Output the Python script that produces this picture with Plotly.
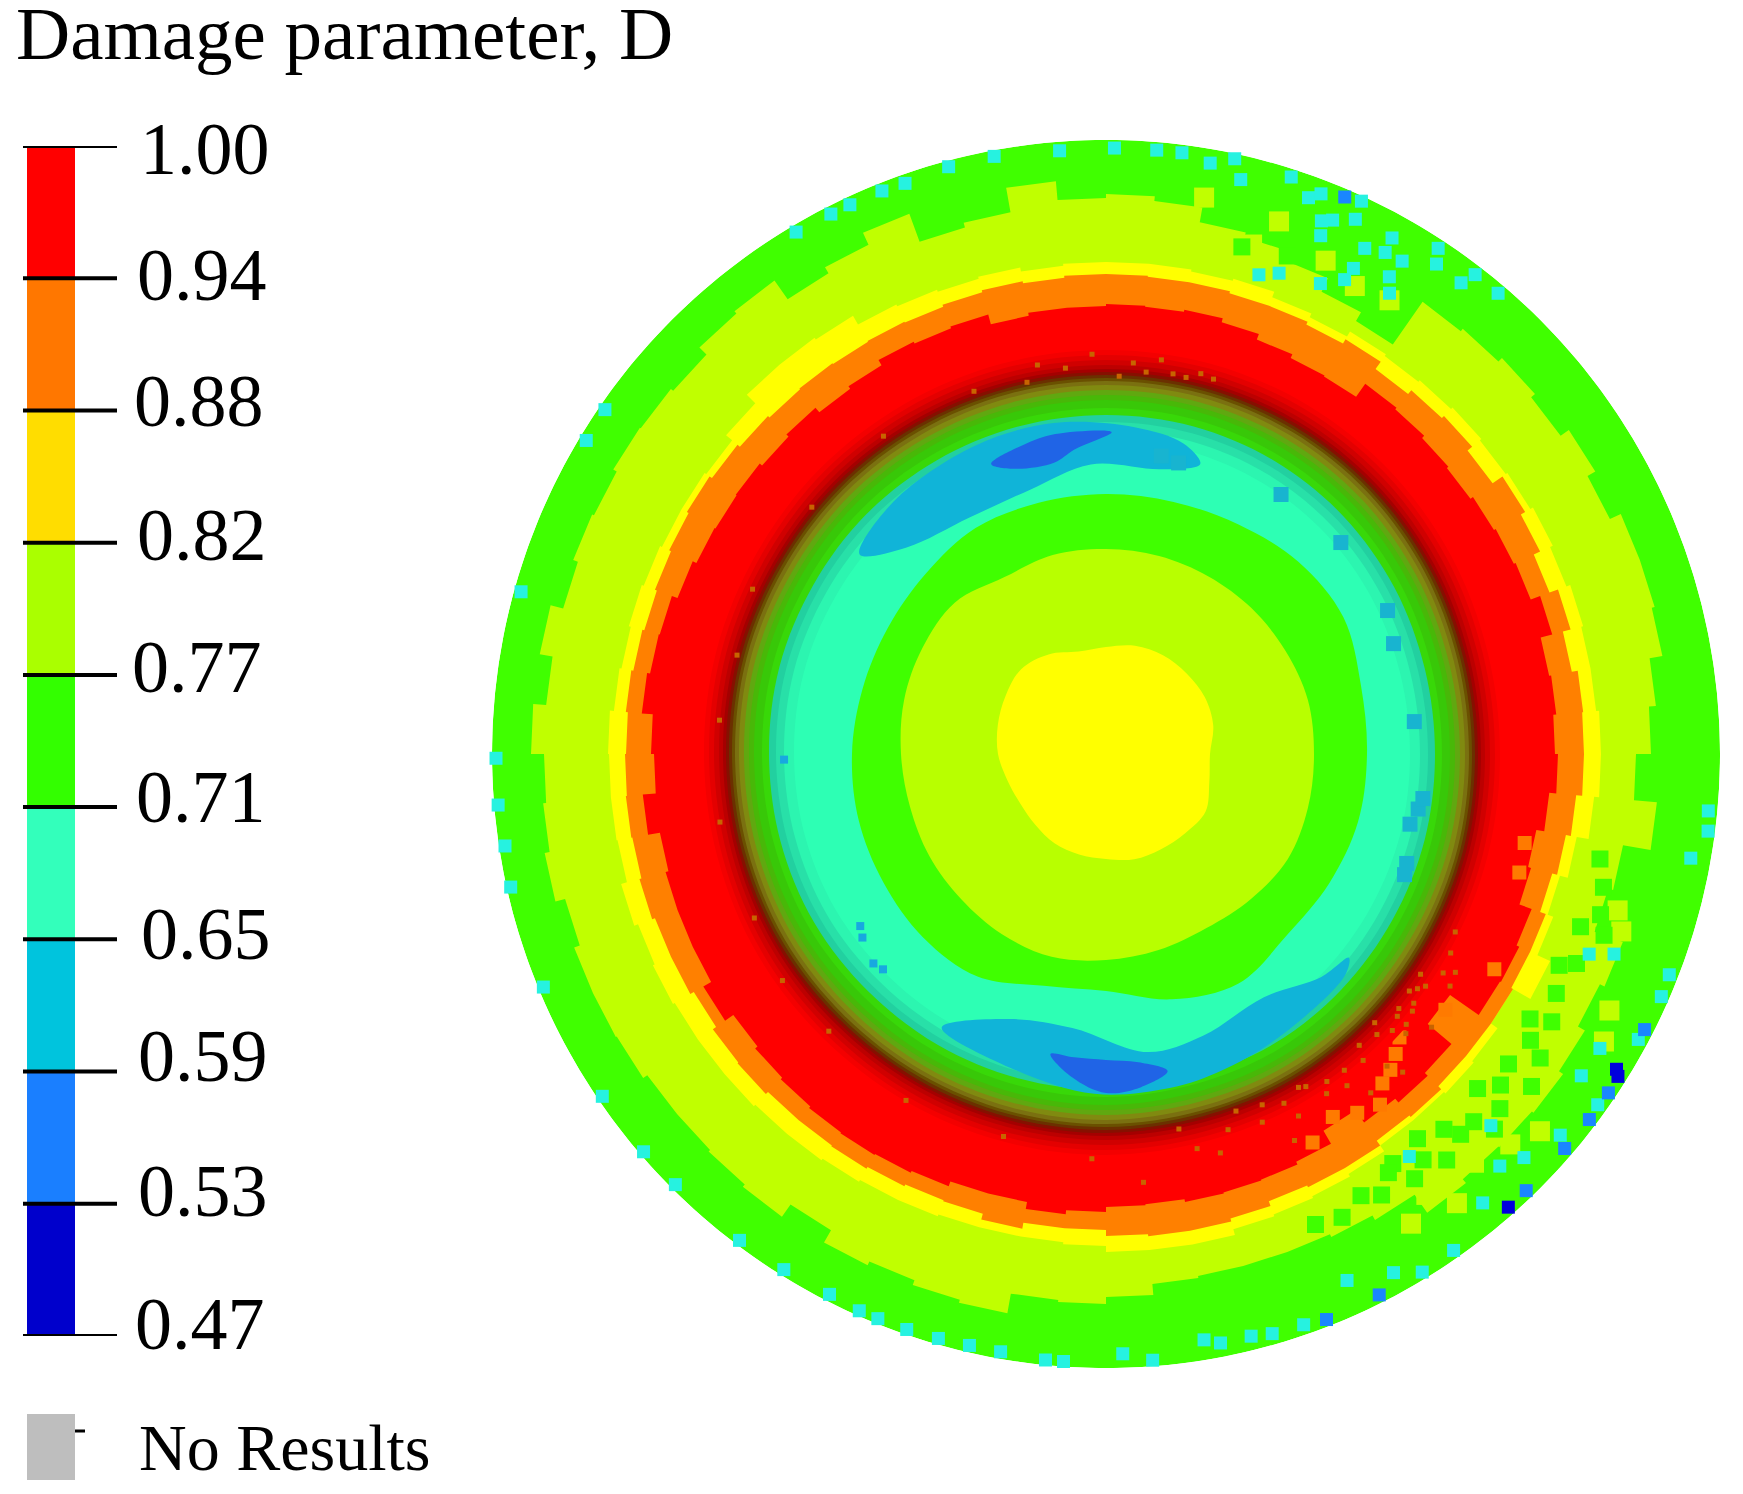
import plotly.graph_objects as go

W, H = 1743, 1494

# ---------- legend ----------
LEVELS = ["0.47", "0.53", "0.59", "0.65", "0.71", "0.77", "0.82", "0.88", "0.94", "1.00"]
LEVEL_COLORS = ["#0000cc", "#1a7fff", "#00c4dd", "#33ffbb", "#33ff00",
                "#aaff00", "#ffdd00", "#ff7700", "#ff0000"]
LABEL_LEFT = [134, 137, 137, 140, 135, 131, 136, 133, 136, 139]
LABEL_MID = [1324, 1191, 1056, 934, 797, 667, 535, 401, 275, 149]

# ---------- disc: band boundary radii, read every 5 degrees, counter-clockwise from east ----------
DISC_RADIUS = 614
YG_OUTER = [
    545, 552, 565, 568, 568, 556, 565, 555, 560, 555, 552, 500,
    510, 525, 535, 540, 555, 560, 556, 575, 550, 545, 575, 562,
    555, 578, 575, 565, 568, 569, 565, 567, 562, 575, 562, 575,
    562, 565, 570, 560, 566, 566, 565, 560, 560, 562, 565, 550,
    564, 560, 565, 568, 548, 550, 543, 532, 530, 530, 530, 533,
    538, 560, 555, 556, 558, 553, 545, 550, 520, 525, 553, 530]
YELLOW_OUTER = [
    495, 492, 492, 494, 490, 493, 490, 488, 490, 488, 486, 488,
    482, 486, 492, 490, 492, 492, 492, 490, 494, 492, 494, 496,
    506, 508, 508, 496, 488, 490, 490, 492, 494, 492, 494, 498,
    497, 497, 496, 502, 498, 500, 498, 498, 498, 496, 496, 494,
    492, 492, 490, 490, 490, 492, 498, 498, 498, 492, 490, 488,
    485, 478, 478, 480, 478, 470, 490, 476, 470, 478, 490, 495]
ORANGE_OUTER = [
    478, 479, 473, 481, 472, 479, 484, 472, 478, 475, 470, 479,
    474, 477, 477, 479, 479, 480, 480, 478, 480, 478, 476, 477,
    476, 477, 476, 478, 481, 484, 482, 480, 478, 480, 482, 480,
    481, 482, 481, 483, 480, 480, 476, 480, 481, 478, 478, 479,
    477, 475, 476, 482, 476, 476, 482, 484, 484, 481, 476, 478,
    478, 472, 474, 470, 470, 470, 468, 468, 462, 467, 472, 478]
RED_OUTER = [
    449, 452, 450, 462, 452, 450, 448, 445, 447, 450, 452, 436,
    437, 441, 447, 451, 449, 450, 448, 448, 445, 455, 453, 455,
    449, 446, 452, 449, 452, 451, 452, 456, 462, 463, 466, 455,
    452, 465, 453, 456, 456, 456, 465, 455, 458, 460, 462, 463,
    462, 460, 455, 455, 462, 458, 453, 452, 455, 454, 453, 450,
    435, 450, 455, 451, 420, 455, 456, 453, 440, 437, 445, 452]

# dark shaded wall between the red ring and the teal field
RING_RADII = [408, 400, 395, 390, 385, 381, 378, 375, 372, 369, 365, 360,
              355, 350, 342, 335, 328, 320, 310]
RING_COLORS = ["#ff0000", "#f40000", "#e40000", "#d00000", "#bc0000", "#a40000",
               "#861000", "#6b3000", "#6a5000", "#7a7010", "#808a10", "#60a810",
               "#48b808", "#38c808", "#38d808", "#22d0a0", "#28e0a8", "#2cf5b0", "#2dffb4"]
RING_SHIFT = [-6, -5, -2, 1, 3, 4, 4, 4, 4, 4, 3, 3, 2, 2, 2, 1, 1, 1, 1, 0, 0, -2, -4, -5]

# inner bands, read every 15 degrees
MID_GREEN = [261, 264, 274, 272, 265, 261, 260, 260, 261, 255, 252, 252,
             254, 256, 257, 259, 257, 240, 237, 254, 265, 256, 258, 261]
MID_YG = [208, 209, 207, 206, 205, 205, 205, 206, 204, 214, 212, 209,
          205, 203, 204, 205, 208, 210, 206, 203, 201, 205, 210, 209]
CENTER_Y = [104, 111, 114, 114, 114, 112, 107, 106, 115, 120, 116, 112,
            108, 102, 99, 100, 103, 104, 105, 109, 110, 112, 115, 107]

# cooler patches inside the teal field: (theta, r) outlines
BLUE_N_THETA = [141, 130, 113, 99, 85, 76, 72, 79, 93, 106, 120, 134, 141]
BLUE_N_R = [317, 330, 335, 335, 328, 320, 305, 290, 290, 275, 273, 287, 317]
BLUE_S_THETA = [239, 253, 268, 281, 290, 301, 317, 320, 314, 303, 289, 278, 263, 250, 239]
BLUE_S_R = [319, 328, 340, 340, 337, 332, 326, 317, 310, 290, 298, 301, 276, 282, 319]
DEEP_N_THETA = [111.6, 105, 99, 89, 96, 100, 107.5, 111.6]
DEEP_N_R = [312, 320, 324, 322, 306, 296, 299, 312]
DEEP_S_THETA = [259.5, 264, 270, 276, 281, 276, 270, 264, 259.5]
DEEP_S_R = [305, 325, 339, 335, 323, 310, 306, 305, 305]
TEAL_BLOB_THETA = [27, 21, 6, 350, 352, 347, 340, 338, 56, 42, 79.5, 76]
TEAL_BLOB_R = [316, 308, 310, 317, 320, 312, 320, 322, 313, 316, 303, 300]
TEAL_SPECK_THETA = [181, 215, 217, 222, 224]
TEAL_SPECK_R = [322, 300, 305, 313, 310]

# single cells near the rim and in the mottled sectors
CYAN_THETA = [105, 100.6, 94.4, 109.4, 111.7, 115, 117, 120.7, 145.5, 148.9, 164.5, 180.4,
              184.8, 188.7, 192.6, 202.5, 214.2, 220.7, 225, 233, 238, 242.9, 246.1, 248,
              250.9, 254, 257, 260, 264.3, 266, 271.6, 274.4, 284, 281, 279.5, 286, 289.1, 299,
              305, 301.4, 294.6, 310, 320, 324.5, 331.8, 336.4, 338.6, 337.5, 338.5, 349.9,
              352.7, 354.6, 325.9, 329.2, 313.7, 316, 316, 307, 89.2, 85.2, 82.8, 80, 77.8,
              76.8, 72.2, 70, 65.2, 56.7, 56, 52.4, 49.6, 53, 67, 67.5, 62.9, 60.9, 59, 59.3,
              58.4, 63.3, 65.5, 70.2, 72.3, 65, 68, 69, 63, 61]
CYAN_R = [608, 608, 605, 605, 606, 606, 606, 607, 608, 607, 607, 610,
          610, 608, 610, 609, 609, 610, 609, 609, 608, 607, 609, 609,
          609, 608, 607, 607, 609, 609, 600, 608, 600, 600, 594, 603, 604, 593,
          606, 607, 579, 586, 593, 604, 604, 606, 605, 523, 546, 594,
          607, 605, 574, 575, 570, 581, 535, 504, 606, 606, 606, 600, 609,
          590, 606, 592, 609, 605, 591, 605, 605, 590, 580, 561, 568, 574, 575, 555,
          541, 531, 517, 511, 503, 590, 575, 600, 545, 590]
BLUE_THETA = [291.3, 296.8, 313.9, 319.3, 322.9, 326, 332.9, 66.8]
BLUE_R = [607, 606, 606, 605, 606, 606, 605, 606]
NAVY_THETA = [311.6, 327.8, 328.3]
NAVY_R = [606, 605, 600]
GREEN_THETA = [322.4, 318, 315, 312, 308, 305, 325, 328, 332, 318, 322, 310, 306, 302, 300, 297,
               294, 335, 340, 345, 348, 340, 75, 70, 320, 316, 313, 309, 304, 326, 329, 336, 342]
GREEN_R = [508, 500, 520, 505, 515, 500, 530, 500, 510, 530, 540, 530, 525, 520, 510, 520,
           515, 500, 505, 515, 505, 530, 525, 530, 515, 540, 520, 495, 505, 512, 520, 515, 520]
YG_THETA = [312, 308, 316, 319, 303, 306, 330, 333, 341, 343, 58, 62, 66, 72, 74, 80]
YG_R = [550, 570, 562, 575, 560, 545, 575, 565, 545, 535, 535, 530, 540, 560, 530, 565]
ORANGE_CELL_THETA = [314, 316, 312, 302, 298, 305, 308, 323, 331, 310, 344, 348]
ORANGE_CELL_R = [417, 408, 425, 428, 440, 438, 445, 425, 444, 430, 430, 428]
SPECK_THETA = [320, 318, 317, 322, 324, 315, 312, 310, 313, 306, 304, 300, 298, 296, 293, 290,
               288, 286, 283, 281, 275, 330, 328, 327, 333, 326, 320, 308, 100, 96, 92, 86, 82,
               78, 74, 110, 125, 140, 155, 165, 175, 190, 205, 215, 225, 240, 255, 268, 102, 88,
               319, 321, 323, 325, 318, 316, 314, 311, 307, 303, 301, 297, 294, 84, 80, 76]
SPECK_R = [400, 392, 410, 385, 395, 380, 420, 400, 435, 410, 395, 385, 410, 430, 400, 380,
           395, 415, 405, 382, 430, 398, 412, 402, 392, 415, 425, 430, 395, 388, 400, 392, 398,
           385, 390, 386, 388, 384, 390, 382, 388, 392, 388, 395, 392, 400, 396, 405, 380, 378,
           388, 396, 390, 384, 404, 398, 390, 386, 396, 405, 388, 392, 384, 384, 386, 392]


def closed(values):
    step = 360 / len(values)
    theta = [i * step for i in range(len(values))]
    return theta + [360], list(values) + [values[0]]


def stepped(values):
    step = 360 / len(values)
    theta, r = [], []
    for i, v in enumerate(values):
        theta += [i * step, (i + 1) * step]
        r += [v, v]
    return theta, r


fig = go.Figure()


def area(theta, r, color, shape="linear"):
    line = dict(width=0, color=color, shape=shape)
    fig.add_trace(go.Scatterpolar(theta=theta, r=r, mode="lines", fill="toself", fillcolor=color,
                                  line=line, hoverinfo="skip", showlegend=False))


def cells(theta, r, color, size):
    fig.add_trace(go.Scatterpolar(theta=theta, r=r, mode="markers", hoverinfo="skip",
                                  marker=dict(symbol="square", size=size, color=color,
                                              line=dict(width=0)), showlegend=False))


area(*closed([DISC_RADIUS] * 360), "#40ff00")
area(*stepped(YG_OUTER), "#c0ff00")
cells(YG_THETA, YG_R, "#c0ff00", 20)
cells(GREEN_THETA, GREEN_R, "#40ff00", 17)
cells(CYAN_THETA, CYAN_R, "#26f2e0", 13)
cells(BLUE_THETA, BLUE_R, "#1a86ff", 13)
cells(NAVY_THETA, NAVY_R, "#0000dd", 13)
area(*stepped(YELLOW_OUTER), "#ffff00")
area(*stepped(ORANGE_OUTER), "#ff8000")
area(*stepped(RED_OUTER), "#ff0000")
cells(ORANGE_CELL_THETA, ORANGE_CELL_R, "#ff7a00", 14)

for radius, color in zip(RING_RADII, RING_COLORS):
    area(*closed([radius + s for s in RING_SHIFT]), color, "spline")
cells(SPECK_THETA, SPECK_R, "#c86400", 5)

area(BLUE_N_THETA, BLUE_N_R, "#10b4d8", "spline")
area(BLUE_S_THETA, BLUE_S_R, "#10b4d8", "spline")
area(DEEP_N_THETA, DEEP_N_R, "#2064e6", "spline")
area(DEEP_S_THETA, DEEP_S_R, "#2064e6", "spline")
cells(TEAL_BLOB_THETA, TEAL_BLOB_R, "#18b4d0", 15)
cells(TEAL_SPECK_THETA, TEAL_SPECK_R, "#18a8e0", 8)
area(*closed(MID_GREEN), "#40ff00", "spline")
area(*closed(MID_YG), "#b8ff00", "spline")
area(*closed(CENTER_Y), "#ffff00", "spline")

# ---------- legend bar ----------
for i, color in enumerate(LEVEL_COLORS):
    fig.add_trace(go.Bar(x=[28], y=[1], base=[i], width=[48], marker=dict(color=color, line=dict(width=0)),
                         hoverinfo="skip", showlegend=False, xaxis="x", yaxis="y"))
tick_x, tick_y = [], []
for i in range(len(LEVELS)):
    tick_x += [0, 94, None]
    tick_y += [i, i, None]
fig.add_trace(go.Scatter(x=tick_x, y=tick_y, mode="lines", line=dict(color="#000000", width=4),
                         hoverinfo="skip", showlegend=False, xaxis="x", yaxis="y", cliponaxis=False))


def px_x(v):
    return v / W


def px_y(v):
    return 1 - v / H


FONT = "Liberation Serif, Times New Roman, serif"
notes = [dict(text="Damage parameter, D", x=px_x(15), y=px_y(34), size=75),
         dict(text="No Results", x=px_x(138), y=px_y(1447), size=66)]
for label, left, mid in zip(LEVELS, LABEL_LEFT, LABEL_MID):
    notes.append(dict(text=label, x=px_x(left), y=px_y(mid), size=74))
annotations = [dict(text=n["text"], x=n["x"], y=n["y"], xref="paper", yref="paper", showarrow=False,
                    xanchor="left", yanchor="middle", align="left", borderpad=0,
                    font=dict(family=FONT, size=n["size"], color="#000000")) for n in notes]

fig.update_layout(
    width=W, height=H, margin=dict(l=0, r=0, t=0, b=0), autosize=False,
    paper_bgcolor="#ffffff", plot_bgcolor="rgba(0,0,0,0)", barmode="overlay", showlegend=False,
    xaxis=dict(domain=[px_x(23), px_x(117)], range=[0, 94], visible=False, fixedrange=True),
    yaxis=dict(domain=[px_y(1336), px_y(146)], range=[0, 9], visible=False, fixedrange=True),
    polar=dict(domain=dict(x=[px_x(492), px_x(1720)], y=[px_y(1368), px_y(140)]),
               bgcolor="rgba(0,0,0,0)",
               radialaxis=dict(visible=False, range=[0, DISC_RADIUS]),
               angularaxis=dict(visible=False, direction="counterclockwise", rotation=0)),
    annotations=annotations,
    shapes=[dict(type="rect", xref="paper", yref="paper", x0=px_x(27), x1=px_x(75), y0=px_y(1480), y1=px_y(1414),
                 fillcolor="#bebebe", line=dict(width=0)),
            dict(type="line", xref="paper", yref="paper", x0=px_x(75), x1=px_x(85), y0=px_y(1431), y1=px_y(1431),
                 line=dict(color="#000000", width=3))],
)

fig.write_html("out.html", config=dict(displayModeBar=False),
               post_script="document.body.style.margin='0';document.body.style.background='#ffffff';")
